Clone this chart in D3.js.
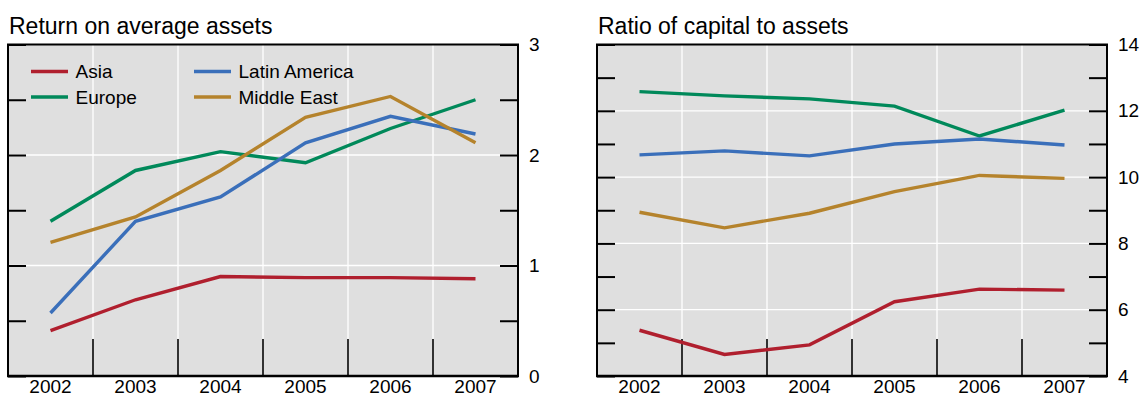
<!DOCTYPE html>
<html>
<head>
<meta charset="utf-8">
<script src="https://cdn.jsdelivr.net/npm/d3@7"></script>
<style>
  html, body { margin: 0; padding: 0; background: #ffffff; }
  svg { display: block; font-family: "Liberation Sans", Arial, sans-serif; }
</style>
</head>
<body>
<svg id="chart" width="1144" height="399"></svg>
<script>
// Years on the horizontal axis
const years = [2002, 2003, 2004, 2005, 2006, 2007];

// Return on average assets (percent)
const roaAsia    = [0.41, 0.69, 0.90, 0.89, 0.89, 0.88];
const roaEurope  = [1.40, 1.86, 2.03, 1.93, 2.24, 2.50];
const roaLatAm   = [0.57, 1.40, 1.62, 2.11, 2.35, 2.19];
const roaMidEast = [1.21, 1.44, 1.86, 2.34, 2.53, 2.11];

// Ratio of capital to assets (percent)
const capAsia    = [5.38, 4.65, 4.94, 6.24, 6.62, 6.59];
const capEurope  = [12.58, 12.45, 12.36, 12.14, 11.24, 12.02];
const capLatAm   = [10.67, 10.79, 10.64, 11.00, 11.15, 10.97];
const capMidEast = [8.94, 8.47, 8.91, 9.56, 10.05, 9.96];

// Tick values for each panel (labeled ones are a subset)
const roaTicks = [0, 0.5, 1, 1.5, 2, 2.5, 3];
const roaLabels = [0, 1, 2, 3];
const capTicks = [4, 5, 6, 7, 8, 9, 10, 11, 12, 13, 14];
const capLabels = [4, 6, 8, 10, 12, 14];

const seriesNames = ["Asia", "Europe", "Latin America", "Middle East"];
const seriesColors = ["#b01f2e", "#00895a", "#3a6fba", "#b5832c"];

const svg = d3.select("#chart");

function drawPanel(cfg) {
  const w = cfg.right - cfg.left;
  const top = 44.5, bottom = 376, h = bottom - top;
  const g = svg.append("g").attr("transform", `translate(${cfg.left},${top})`);

  const x = d3.scaleBand().domain(years).range([0, w]).paddingInner(0).paddingOuter(0);
  const y = d3.scaleLinear().domain(cfg.domain).range([h, 0]);

  // plot background
  g.append("rect").attr("width", w).attr("height", h).attr("fill", "#dfdfdf");

  // white gridlines: vertical at year boundaries, horizontal at labeled values
  const bounds = years.slice(1);
  g.selectAll("line.vgrid").data(bounds).join("line")
    .attr("x1", d => x(d)).attr("x2", d => x(d))
    .attr("y1", 0).attr("y2", h)
    .attr("stroke", "#ffffff").attr("stroke-width", 1.3);
  g.selectAll("line.hgrid").data(cfg.labels.filter(v => v !== cfg.domain[0] && v !== cfg.domain[1])).join("line")
    .attr("x1", 0).attr("x2", w)
    .attr("y1", d => y(d)).attr("y2", d => y(d))
    .attr("stroke", "#ffffff").attr("stroke-width", 1.3);

  // bottom tick marks at year boundaries
  g.selectAll("line.xtick").data(bounds).join("line")
    .attr("x1", d => x(d)).attr("x2", d => x(d))
    .attr("y1", h - 37).attr("y2", h)
    .attr("stroke", "#000").attr("stroke-width", 1.6);

  // inward ticks along the left edge
  const leftAxis = d3.axisLeft(y).tickValues(cfg.ticks).tickSize(-18).tickFormat("");
  g.append("g").call(leftAxis).call(a => {
    a.select(".domain").remove();
    a.selectAll(".tick line").attr("stroke", "#000").attr("stroke-width", 2);
  });

  // inward ticks and labels along the right edge
  const rightAxis = d3.axisRight(y).tickValues(cfg.ticks).tickSize(-18).tickPadding(11)
    .tickFormat(d => cfg.labels.includes(d) ? d3.format("d")(d) : "");
  g.append("g").attr("transform", `translate(${w},0)`).call(rightAxis).call(a => {
    a.select(".domain").remove();
    a.selectAll(".tick line").attr("stroke", "#000").attr("stroke-width", 2);
    a.selectAll(".tick text").attr("x", 11).attr("text-anchor", "start")
      .attr("font-size", 19).attr("fill", "#000").attr("font-family", "Liberation Sans, Arial, sans-serif");
  });

  // year labels
  const bottomAxis = d3.axisBottom(x).tickSize(0).tickPadding(3);
  g.append("g").attr("transform", `translate(0,${h})`).call(bottomAxis).call(a => {
    a.select(".domain").remove();
    a.selectAll(".tick text").attr("font-size", 19).attr("fill", "#000")
      .attr("font-family", "Liberation Sans, Arial, sans-serif");
  });

  // series lines
  const line = d3.line()
    .x((d, i) => x(years[i]) + x.bandwidth() / 2)
    .y(d => y(d));
  cfg.series.forEach((vals, i) => {
    g.append("path").datum(vals)
      .attr("fill", "none")
      .attr("stroke", seriesColors[i])
      .attr("stroke-width", 3.4)
      .attr("d", line);
  });

  // frame
  g.append("rect").attr("width", w).attr("height", h)
    .attr("fill", "none").attr("stroke", "#000").attr("stroke-width", 2);
  g.append("line").attr("x1", -1).attr("x2", w + 1).attr("y1", h).attr("y2", h)
    .attr("stroke", "#000").attr("stroke-width", 2.6);

  // title
  svg.append("text")
    .attr("x", cfg.left + 1).attr("y", 34)
    .attr("font-size", 23).attr("fill", "#000")
    .text(cfg.title);

  return { g, x, y };
}

const left = drawPanel({
  left: 8, right: 518,
  domain: [0, 3], ticks: roaTicks, labels: roaLabels,
  series: [roaAsia, roaEurope, roaLatAm, roaMidEast],
  title: "Return on average assets"
});

drawPanel({
  left: 597, right: 1107,
  domain: [4, 14], ticks: capTicks, labels: capLabels,
  series: [capAsia, capEurope, capLatAm, capMidEast],
  title: "Ratio of capital to assets"
});

// legend in the left panel, two columns
const legendPos = [
  { x: 23, y: 27 }, { x: 23, y: 52.5 },
  { x: 186, y: 27 }, { x: 186, y: 52.5 }
];
const lg = left.g.selectAll("g.legend").data(seriesNames).join("g")
  .attr("transform", (d, i) => `translate(${legendPos[i].x},${legendPos[i].y})`);
lg.append("line").attr("x1", 0).attr("x2", 37).attr("y1", 0).attr("y2", 0)
  .attr("stroke", (d, i) => seriesColors[i]).attr("stroke-width", 3.4);
lg.append("text").attr("x", 44.5).attr("y", 1).attr("dy", "0.3em")
  .attr("font-size", 19).attr("fill", "#000").text(d => d);
</script>
</body>
</html>
